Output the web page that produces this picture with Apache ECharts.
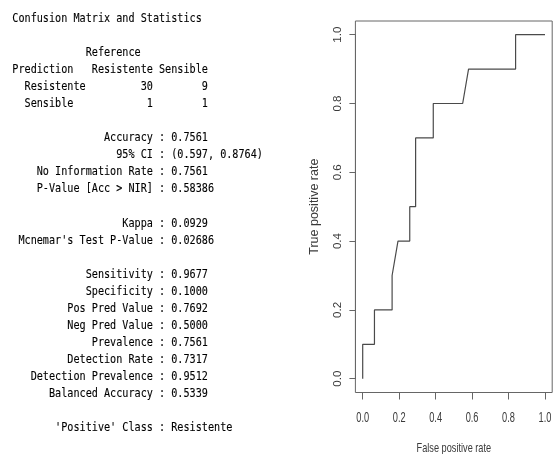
<!DOCTYPE html>
<html><head><meta charset="utf-8">
<script src="https://cdn.jsdelivr.net/npm/echarts@6/dist/echarts.min.js"></script>
<style>html,body{margin:0;padding:0;background:#fff}#c{width:553px;height:454px}</style>
</head><body><div id="c"></div>
<script>
// ROC curve (false positive rate, true positive rate)
const fpr = [0, 0, 0.0645, 0.0645, 0.1613, 0.1613, 0.1935, 0.2581, 0.2581, 0.2903, 0.2903, 0.3871, 0.3871, 0.5484, 0.5806, 0.8387, 0.8387, 1.0];
const tpr = [0, 0.1, 0.1, 0.2, 0.2, 0.3, 0.4, 0.4, 0.5, 0.5, 0.7, 0.7, 0.8, 0.8, 0.9, 0.9, 1.0, 1.0];
const xTickLabels = ['0.0', '0.2', '0.4', '0.6', '0.8', '1.0'];
const yTickLabels = ['0.0', '0.2', '0.4', '0.6', '0.8', '1.0'];
const xTitle = 'False positive rate';
const yTitle = 'True positive rate';

// Confusion matrix and statistics
const reportTitle = 'Confusion Matrix and Statistics';
const matrixClasses = ['Resistente', 'Sensible'];
const matrixCounts = [[30, 9], [1, 1]];
const statLabelsA = ['Accuracy', '95% CI', 'No Information Rate', 'P-Value [Acc > NIR]'];
const statValuesA = ['0.7561', '(0.597, 0.8764)', '0.7561', '0.58386'];
const statLabelsB = ['Kappa', "Mcnemar's Test P-Value"];
const statValuesB = ['0.0929', '0.02686'];
const statLabelsC = ['Sensitivity', 'Specificity', 'Pos Pred Value', 'Neg Pred Value', 'Prevalence', 'Detection Rate', 'Detection Prevalence', 'Balanced Accuracy'];
const statValuesC = ['0.9677', '0.1000', '0.7692', '0.5000', '0.7561', '0.7317', '0.9512', '0.5339'];
const positiveLabel = "'Positive' Class";
const positiveValue = 'Resistente';

// build the console lines
const lines = [];
lines.push(reportTitle);
lines.push('');
lines.push(' '.repeat(12) + 'Reference');
lines.push('Prediction   ' + matrixClasses.join(' '));
matrixClasses.forEach((c, i) => {
  lines.push('  ' + c.padEnd(10) + String(matrixCounts[i][0]).padStart(11) + String(matrixCounts[i][1]).padStart(9));
});
lines.push('');
const stat = (l, v) => l.padStart(23) + ' : ' + v;
statLabelsA.forEach((l, i) => lines.push(stat(l, statValuesA[i])));
lines.push('');
statLabelsB.forEach((l, i) => lines.push(stat(l, statValuesB[i])));
lines.push('');
statLabelsC.forEach((l, i) => lines.push(stat(l, statValuesC[i])));
lines.push('');
lines.push(stat(positiveLabel, positiveValue));

const chart = echarts.init(document.getElementById('c'), null, {renderer: 'canvas'});
const axisColor = '#666';
const textColor = '#3a3a3a';

chart.setOption({
  animation: false,
  backgroundColor: '#fff',
  grid: [
    {left: 362.7, right: 8, top: 34.7, bottom: 75.3, containLabel: false, outerBoundsMode: 'none'},
    {left: 355.4, right: 0.8, top: 21, bottom: 61.5, containLabel: false, outerBoundsMode: 'none',
     show: true, borderColor: axisColor, borderWidth: 1, backgroundColor: 'transparent'}
  ],
  xAxis: [
    {type: 'value', gridIndex: 0, min: 0, max: 1, interval: 0.2, offset: 13.8, position: 'bottom',
     axisLine: {show: true, onZero: false, lineStyle: {color: axisColor, width: 1}},
     axisTick: {show: true, length: 7, lineStyle: {color: axisColor, width: 1}},
     axisLabel: {show: false}, splitLine: {show: false}},
    {type: 'value', gridIndex: 1, min: 0, max: 1, show: false, splitLine: {show: false}}
  ],
  yAxis: [
    {type: 'value', gridIndex: 0, min: 0, max: 1, interval: 0.2, offset: 7.3, position: 'left',
     axisLine: {show: true, onZero: false, lineStyle: {color: axisColor, width: 1}},
     axisTick: {show: true, length: 6, lineStyle: {color: axisColor, width: 1}},
     axisLabel: {show: true, rotate: 90, margin: 12, fontSize: 11.5, fontFamily: 'Liberation Sans', color: textColor,
       formatter: (v) => yTickLabels[Math.round(v / 0.2)] || ''},
     splitLine: {show: false},
     name: yTitle, nameLocation: 'middle', nameRotate: 90, nameGap: 34,
     nameTextStyle: {fontSize: 12.5, fontFamily: 'Liberation Sans', color: textColor}},
    {type: 'value', gridIndex: 1, min: 0, max: 1, show: false, splitLine: {show: false}}
  ],
  series: [{
    type: 'line', xAxisIndex: 0, yAxisIndex: 0,
    data: fpr.map((x, i) => [x, tpr[i]]),
    showSymbol: false, symbol: 'none', silent: true,
    lineStyle: {color: '#4a4a4a', width: 1.2}
  }]
});

const graphics = [];
lines.forEach((t, r) => {
  if (!t) return;
  graphics.push({type: 'text', x: 12.3, y: 18.3 + 17.07 * r, scaleX: 0.781, silent: true,
    style: {text: t, fontSize: 13, fontFamily: 'DejaVu Sans Mono', fill: '#000', stroke: '#000', lineWidth: 0.12,
      verticalAlign: 'middle', align: 'left'}});
});
xTickLabels.forEach((lab, i) => {
  const px = chart.convertToPixel({xAxisIndex: 0}, i * 0.2);
  graphics.push({type: 'text', x: px, y: 418, scaleX: 0.66, silent: true,
    style: {text: lab, fontSize: 14, fontFamily: 'Liberation Sans', fill: textColor, verticalAlign: 'middle', align: 'center'}});
});
const midX = (chart.convertToPixel({xAxisIndex: 0}, 0) + chart.convertToPixel({xAxisIndex: 0}, 1)) / 2;
graphics.push({type: 'text', x: midX, y: 448.5, scaleX: 0.73, silent: true,
  style: {text: xTitle, fontSize: 12.6, fontFamily: 'Liberation Sans', fill: textColor, verticalAlign: 'middle', align: 'center'}});
chart.setOption({graphic: graphics});
</script>
</body></html>
